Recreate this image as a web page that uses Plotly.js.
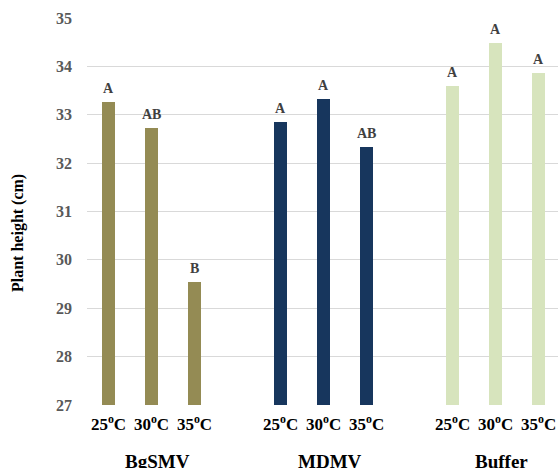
<!DOCTYPE html>
<html>
<head>
<meta charset="utf-8">
<script src="https://cdn.plot.ly/plotly-3.0.1.min.js"></script>
<style>html,body{margin:0;padding:0;background:#fff;}#chart{width:558px;height:468px;}</style>
</head>
<body>
<div id="chart"></div>
<script>
const groups = ["BgSMV", "MDMV", "Buffer"];
const temps = ["25<sup>o</sup>C", "30<sup>o</sup>C", "35<sup>o</sup>C"];
const bgsmv = [33.27, 32.73, 29.55];
const mdmv = [32.84, 33.33, 32.33];
const buffer = [33.59, 34.49, 33.87];
const bgsmvLetters = ["A", "AB", "B"];
const mdmvLetters = ["A", "A", "AB"];
const bufferLetters = ["A", "A", "A"];
const yTitle = "Plant height (cm)";
const colors = ["#948B54", "#17365D", "#D7E4BD"];

const seriesVals = [bgsmv, mdmv, buffer];
const seriesLetters = [bgsmvLetters, mdmvLetters, bufferLetters];
const serif = "Liberation Serif, Times New Roman, serif";

const traces = [];
const annotations = [];
const tickvals = [];
const ticktext = [];
groups.forEach((g, gi) => {
  const xs = temps.map((t, i) => gi * 4 + i);
  xs.forEach((x, i) => { tickvals.push(x); ticktext.push(temps[i]); });
  traces.push({
    type: "bar",
    x: xs,
    y: seriesVals[gi],
    width: 0.31,
    marker: {color: colors[gi], line: {width: 0}},
    name: g,
    hoverinfo: "y"
  });
  xs.forEach((x, i) => {
    annotations.push({
      x: x, y: seriesVals[gi][i], xref: "x", yref: "y",
      text: "<b>" + seriesLetters[gi][i] + "</b>",
      showarrow: false, yanchor: "bottom", yshift: 4,
      font: {family: serif, size: 14, color: "#404040"}
    });
  });
  annotations.push({
    x: gi * 4 + 1, y: 0, xref: "x", yref: "paper",
    text: "<b>" + g + "</b>", showarrow: false,
    yanchor: "top", yshift: -44, xshift: 6,
    font: {family: serif, size: 19, color: "#000"}
  });
});
annotations.push({
  x: (18 - 87) / 471, y: (405 - 233) / 387, xref: "paper", yref: "paper",
  text: "<b>" + yTitle + "</b>", textangle: -90, showarrow: false,
  xanchor: "center", yanchor: "middle",
  font: {family: serif, size: 16, color: "#000"}
});

const layout = {
  width: 558, height: 468,
  margin: {l: 87, r: 0, t: 18, b: 63},
  paper_bgcolor: "#fff", plot_bgcolor: "#fff",
  showlegend: false,
  bargap: 0,
  xaxis: {
    range: [-0.5, 10.45],
    tickvals: tickvals, ticktext: ticktext,
    tickfont: {family: serif, size: 17, color: "#000", weight: "bold"},
    showgrid: false, zeroline: false, showline: false,
    ticks: "", ticklabelstandoff: 7
  },
  yaxis: {
    range: [27, 35],
    dtick: 1,
    tickfont: {family: serif, size: 16, color: "#595959", weight: "bold"},
    gridcolor: "#D9D9D9", gridwidth: 1,
    zeroline: false, showline: false, ticks: "",
    ticklabelstandoff: 14
  },
  annotations: annotations
};

Plotly.newPlot("chart", traces, layout, {staticPlot: true, displayModeBar: false});
</script>
</body>
</html>
